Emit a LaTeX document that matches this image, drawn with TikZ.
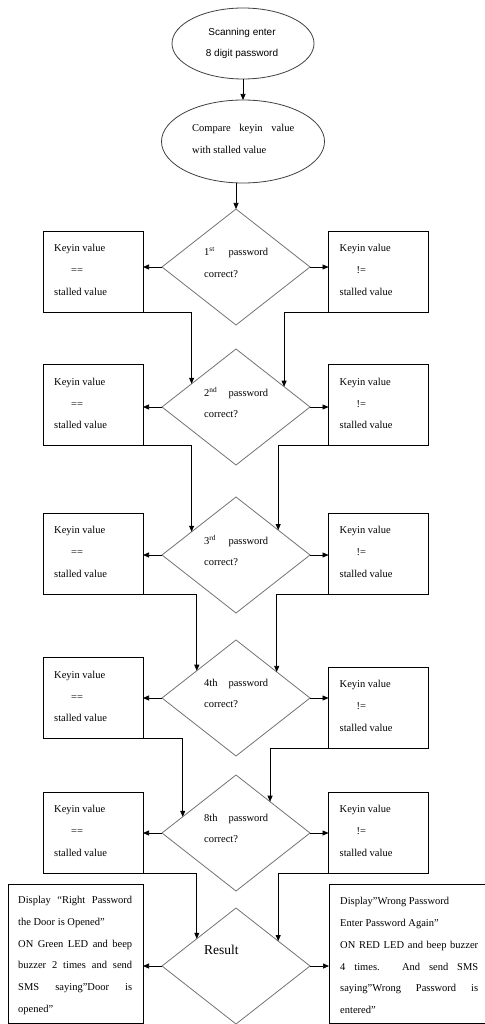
\documentclass[tikz,border=0pt]{standalone}
\usepackage{fontspec}
\setmainfont{Liberation Serif}
\newfontfamily\ellfont{Liberation Sans}
\usetikzlibrary{shapes.geometric,arrows.meta,calc}
\tikzset{
  ell/.style={draw=black!75, ellipse, line width=0.8pt, inner sep=0pt, outer sep=0pt},
  dia/.style={draw=black!55, diamond, minimum width=148pt, minimum height=116pt, inner sep=0pt, outer sep=0pt, line width=0.8pt},
  box/.style={draw, rectangle, minimum width=100pt, minimum height=81pt, inner sep=0pt, outer sep=0pt, line width=0.8pt},
  arr/.style={-{Triangle[length=6pt,width=5pt]}, line width=0.7pt},
  txt/.style={font=\fontsize{10.5}{21.8}\selectfont, align=left, inner sep=0pt, anchor=west},
}
\begin{document}
\begin{tikzpicture}[x=1pt,y=-1pt]
\useasboundingbox[fill=white] (0,0) rectangle (484,1024);

% start ellipses
\node[ell, minimum width=142pt, minimum height=71pt] (e1) at (243,43.5) {};
\node[font=\ellfont\fontsize{10}{21}\selectfont, align=center, inner sep=0pt] (e1t) at (242,43.5) {Scanning enter\\8 digit password};
\node[ell, minimum width=163pt, minimum height=83pt] (e2) at (243,141.5) {};
\node[txt] (e2t) at (192,139) {\makebox[102pt][s]{Compare keyin value}\\with stalled value};
\draw[arr] (e1.south) -- (e2.north);

% decision rows
\foreach \i/\dy/\ly/\ry/\lab in {1/267/271.5/271.5/{1\textsuperscript{st}}, 2/407/405/405/{2\textsuperscript{nd}}, 3/555/553.5/553.5/{3\textsuperscript{rd}}, 4/698/698/707.5/{4th}, 5/833/832.5/832.5/{8th}}{
  \node[dia] (d\i) at (236,\dy) {};
  \node[txt] (dt\i) at ([xshift=-32pt,yshift=4.5pt]d\i.center) {\hbox to 64pt{\lab\hfill password}\\correct?};
  \node[box] (L\i) at (93,\ly) {};
  \node[box] (R\i) at (378.5,\ry) {};
  \node[txt] (lt\i) at ([xshift=11pt,yshift=1.5pt]L\i.west) {Keyin value\\\hspace*{17pt}==\\stalled value};
  \node[txt] (rt\i) at ([xshift=11pt,yshift=1.5pt]R\i.west) {Keyin value\\\hspace*{17pt}!=\\stalled value};
  \draw[arr] (d\i.west) -- (d\i.west -| L\i.east);
  \draw[arr] (d\i.east) -- (d\i.east -| R\i.west);
}
\draw[arr] (d1.north |- e2.south) -- (d1.north);

% result
\node[dia] (d6) at (236,966) {};
\node[txt, font=\fontsize{13.5}{16}\selectfont] (dt6) at (204,950) {Result};
\node[draw, rectangle, line width=0.8pt, inner sep=0pt, outer sep=0pt, minimum width=135pt, minimum height=139pt] (L6) at (75.5,953.5) {};
\node[draw, rectangle, line width=0.8pt, inner sep=0pt, outer sep=0pt, minimum width=157pt, minimum height=139pt] (R6) at (407.5,953.5) {};
\node[txt] (lt6) at (18,955.5) {\makebox[114pt][s]{Display “Right Password}\\the Door is Opened”\\\makebox[114pt][s]{ON Green LED and beep}\\\makebox[114pt][s]{buzzer 2 times and send}\\\makebox[114pt][s]{SMS saying”Door is}\\opened”};
\node[txt] (rt6) at (340,955.5) {Display”Wrong Password\\Enter Password Again”\\\makebox[138pt][s]{ON RED LED and beep buzzer}\\\makebox[138pt][s]{4 times. And send SMS}\\\makebox[138pt][s]{saying”Wrong Password is}\\entered”};
\draw[arr] (d6.west) -- (d6.west -| L6.east);
\draw[arr] (d6.east) -- (d6.east -| R6.west);

% connectors between rows
\foreach \i/\j/\tl/\tr in {1/2/0.6/0.65, 2/3/0.6/0.57, 3/4/0.53/0.55, 4/5/0.72/0.46, 5/6/0.53/0.57}{
  \draw[arr] (L\i.south east) -| ($(d\j.north)!\tl!(d\j.west)$);
  \draw[arr] (R\i.south west) -| ($(d\j.north)!\tr!(d\j.east)$);
}
\end{tikzpicture}
\end{document}
